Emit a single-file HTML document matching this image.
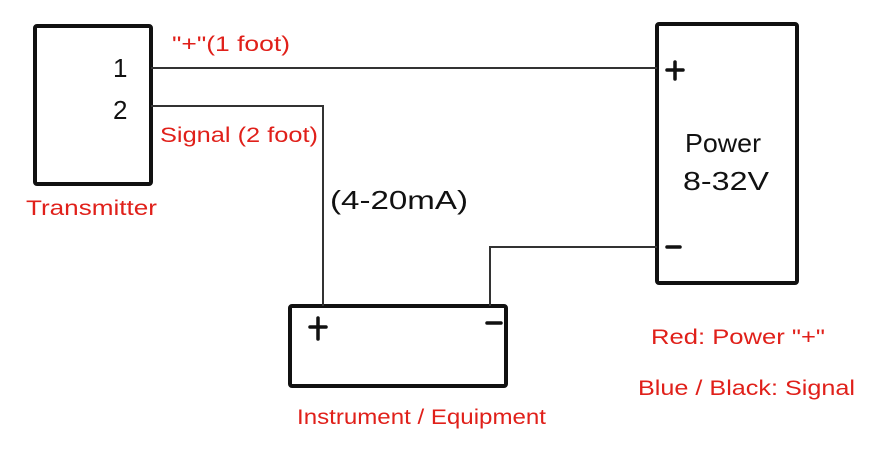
<!DOCTYPE html>
<html><head><style>
body{margin:0;background:#fff;}
</style></head><body>
<svg width="874" height="448" xmlns="http://www.w3.org/2000/svg" font-family="Liberation Sans, sans-serif">
<rect width="874" height="448" fill="#fff"/>
<rect x="35" y="26" width="116" height="158" fill="none" stroke="#111" stroke-width="4" rx="2"/>
<rect x="657" y="24" width="140" height="259" fill="none" stroke="#111" stroke-width="4" rx="2"/>
<rect x="290" y="306" width="216" height="80" fill="none" stroke="#111" stroke-width="4" rx="2"/>
<g stroke="#333" stroke-width="2" fill="none">
<polyline points="151,68 657,68"/>
<polyline points="151,106 323,106 323,306"/>
<polyline points="657,247 490,247 490,306"/>
</g>
<g stroke="#111" stroke-width="3.5" stroke-linecap="round">
<line x1="667" y1="70" x2="683" y2="70"/><line x1="675" y1="62" x2="675" y2="79"/>
<line x1="667" y1="247" x2="680" y2="247"/>
<line x1="310" y1="327" x2="326" y2="327"/><line x1="318" y1="318" x2="318" y2="339"/>
<line x1="487" y1="323" x2="501" y2="323"/>
</g>
<g fill="#e0201a" font-size="21">
<text x="172" y="51" textLength="118" lengthAdjust="spacingAndGlyphs">"+"(1 foot)</text>
<text x="160" y="142" textLength="158" lengthAdjust="spacingAndGlyphs">Signal (2 foot)</text>
<text x="26" y="215" textLength="131" lengthAdjust="spacingAndGlyphs">Transmitter</text>
<text x="297" y="424" textLength="249" lengthAdjust="spacingAndGlyphs">Instrument / Equipment</text>
<text x="651" y="344" textLength="174" lengthAdjust="spacingAndGlyphs">Red: Power "+"</text>
<text x="638" y="395" textLength="217" lengthAdjust="spacingAndGlyphs">Blue / Black: Signal</text>
</g>
<g fill="#111" font-size="26">
<text x="113" y="77">1</text>
<text x="113" y="119">2</text>
<text x="330" y="209" textLength="138" lengthAdjust="spacingAndGlyphs">(4-20mA)</text>
<text x="685" y="152" textLength="76" lengthAdjust="spacingAndGlyphs">Power</text>
<text x="683" y="190" textLength="86" lengthAdjust="spacingAndGlyphs">8-32V</text>
</g>
</svg>
</body></html>
